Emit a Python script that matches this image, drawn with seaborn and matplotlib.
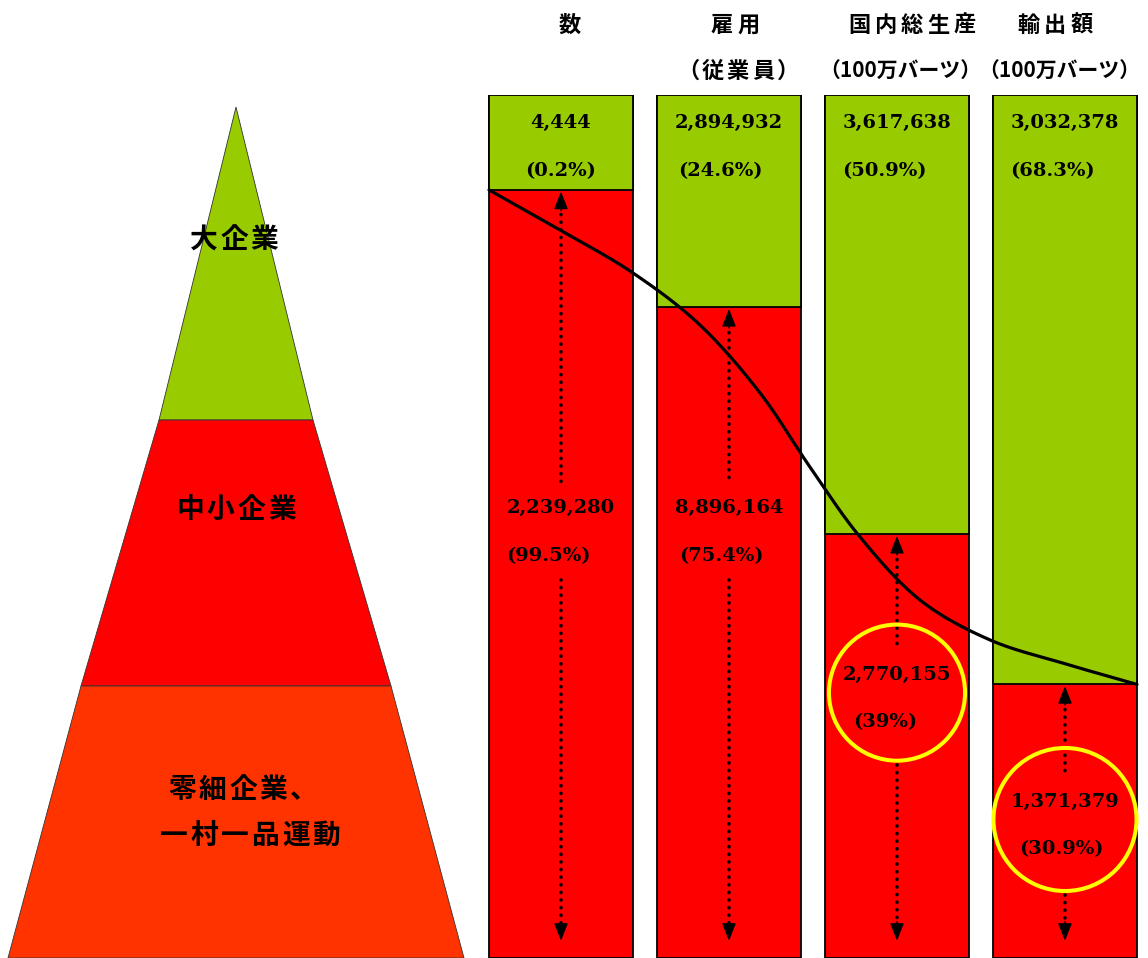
import numpy as np
import pandas as pd
import matplotlib
matplotlib.use("Agg")
import matplotlib.pyplot as plt
import seaborn as sns

# ---- data -------------------------------------------------------------
columns = ["数", "雇用", "国内総生産", "輸出額"]
units = ["", "（従業員）", "（100万バーツ）", "（100万バーツ）"]
large_values = [4444, 2894932, 3617638, 3032378]
large_share = [0.2, 24.6, 50.9, 68.3]
sme_values = [2239280, 8896164, 2770155, 1371379]
sme_share = [99.5, 75.4, 39, 30.9]
highlight = [False, False, True, True]

tiers = ["大企業", "中小企業", "零細企業、\n一村一品運動"]

# ---- style ------------------------------------------------------------
GREEN = "#99CC00"
RED = "#FF0000"
ORANGE = "#FF3300"
YELLOW = "#FFFF00"
JP = ["Noto Sans CJK JP", "DejaVu Sans"]
NUM = "DejaVu Serif"
MIN_VISIBLE = 11.0          # smallest share band kept tall enough for its labels

sns.set_theme(style="white")
plt.rcParams["font.family"] = JP
plt.rcParams["text.color"] = "black"

W, H = 1148, 958
fig = plt.figure(figsize=(W / 100, H / 100), dpi=100)
fig.patch.set_facecolor("white")

# bar panel: x in column units, y in percent (0 at the top)
BAR_L, BAR_R, BAR_T = 477, 1149, 95
ax = fig.add_axes([BAR_L / W, 0, (BAR_R - BAR_L) / W, (H - BAR_T) / H])
PX_PER_PCT = (H - BAR_T) / 100.0
PX_PER_COL = (BAR_R - BAR_L) / 4.0
BAR_WIDTH = 144 / PX_PER_COL

pos = np.arange(len(columns))
shown_large = [max(s, MIN_VISIBLE) for s in large_share]
df = pd.DataFrame({"pos": pos, "column": columns, "full": 100.0, "large": shown_large})

sns.barplot(data=df, x="pos", y="full", native_scale=True, color=RED, saturation=1,
            width=BAR_WIDTH, edgecolor="black", linewidth=1.3, ax=ax)
sns.barplot(data=df, x="pos", y="large", native_scale=True, color=GREEN, saturation=1,
            width=BAR_WIDTH, edgecolor="black", linewidth=1.3, ax=ax)
ax.set_xlim(-0.5, 3.5)
ax.set_ylim(100, 0)
ax.axis("off")


def spaced(axis, text, x, y, advance_px, **kw):
    """Draw text one glyph at a time with extra tracking."""
    n = len(text)
    for i, ch in enumerate(text):
        off = (i - (n - 1) / 2) * advance_px * 0.72
        axis.annotate(ch, xy=(x, y), xytext=(off, 0), textcoords="offset points",
                      ha="center", va="center", annotation_clip=False, **kw)


# column headings
head_shift = [9, 6, 15, -10]
unit_shift = [0, 9, 3, -6]
for i, (name, unit) in enumerate(zip(columns, units)):
    x = pos[i] + head_shift[i] / PX_PER_COL
    spaced(ax, name, x, -8.1, 26.5, fontsize=16, fontweight="bold", family=JP)
    if unit.startswith("（従"):
        spaced(ax, unit, pos[i] + unit_shift[i] / PX_PER_COL, -2.7, 25, fontsize=16,
               fontweight="bold", family=JP)
    elif unit:
        ax.text(pos[i] + unit_shift[i] / PX_PER_COL, -2.7, unit, ha="center",
                va="center", fontsize=15, fontweight="bold", family=JP, clip_on=False)

# value labels
PCT_GAP = 5.5
GREEN_LABEL_Y = 3.3
red_label_y = [47.9, 47.9, 67.2, 81.9]
green_pct_shift = [0, -9, -13, -13]
red_pct_shift = [-13, -8, -12, -4]
num_kw = dict(ha="center", va="center", fontsize=14, fontweight="bold", family=NUM,
              zorder=6)
for i in range(len(columns)):
    ax.text(pos[i], GREEN_LABEL_Y, f"{large_values[i]:,}", **num_kw)
    ax.text(pos[i] + green_pct_shift[i] / PX_PER_COL, GREEN_LABEL_Y + PCT_GAP,
            f"({large_share[i]:g}%)", **num_kw)
    ax.text(pos[i], red_label_y[i], f"{sme_values[i]:,}", **num_kw)
    ax.text(pos[i] + red_pct_shift[i] / PX_PER_COL, red_label_y[i] + PCT_GAP,
            f"({sme_share[i]:g}%)", **num_kw)

# highlighted SME figures
ring_diam_pt = {2: 98, 3: 103}
ring_center = {}
for i in np.flatnonzero(highlight):
    ring_center[i] = red_label_y[i] + PCT_GAP / 2 - 0.7
    sns.scatterplot(x=[pos[i]], y=[ring_center[i]], s=ring_diam_pt[i] ** 2, marker="o",
                    facecolor="none", edgecolor=YELLOW, linewidth=2.9, ax=ax, zorder=5,
                    legend=False)

# double-headed dotted arrows across the SME share
ARROW_END = 98.0
HEAD = 1.8
for i in range(len(columns)):
    top = shown_large[i]
    gap_a = red_label_y[i] - 3.0
    if highlight[i]:
        r_pct = ring_diam_pt[i] / 0.72 / 2 / PX_PER_PCT
        gap_b = ring_center[i] + r_pct + 0.5
    else:
        gap_b = red_label_y[i] + PCT_GAP + 2.8
    for y0, y1 in [(top + 0.2 + HEAD, gap_a), (gap_b, ARROW_END - HEAD)]:
        ax.plot([pos[i], pos[i]], [y0, y1], color="black", lw=2.6,
                linestyle=(0, (0.01, 2.1)), dash_capstyle="round", zorder=4)
    for tip, d in [(top + 0.2, 1), (ARROW_END, -1)]:
        ax.annotate("", xy=(pos[i], tip), xytext=(pos[i], tip + d * 2.2),
                    arrowprops=dict(arrowstyle="-|>,head_length=10.8,head_width=4.3",
                                    mutation_scale=1, color="black", lw=1,
                                    shrinkA=0, shrinkB=0), zorder=4)

# trend curve linking the large-enterprise boundaries
mid_knots = [(-0.006, 15.64), (0.429, 20.63), (0.827, 26.65), (1.185, 34.53),
             (1.482, 43.11), (1.780, 51.22), (2.137, 58.52), (2.554, 63.15),
             (3.0, 65.90)]
knots = np.array([(pos[0] - BAR_WIDTH / 2, shown_large[0])] + mid_knots +
                 [(pos[-1] + BAR_WIDTH / 2, shown_large[-1])])


def catmull_rom(pts, n=30):
    # phantom end points keep the end tangents natural
    ext = np.vstack([2 * pts[0] - pts[1], pts, 2 * pts[-1] - pts[-2]])
    out = []
    for k in range(1, len(ext) - 2):
        p0, p1, p2, p3 = ext[k - 1], ext[k], ext[k + 1], ext[k + 2]
        t = np.linspace(0, 1, n, endpoint=False)[:, None]
        seg = 0.5 * ((2 * p1) + (-p0 + p2) * t + (2 * p0 - 5 * p1 + 4 * p2 - p3) * t ** 2
                     + (-p0 + 3 * p1 - 3 * p2 + p3) * t ** 3)
        out.append(seg)
    out.append(pts[-1][None, :])
    return np.vstack(out)


curve = catmull_rom(knots)
ax.plot(curve[:, 0], curve[:, 1], color="black", lw=2.3, zorder=5,
        solid_capstyle="round")

# ---- pyramid ----------------------------------------------------------
pax = fig.add_axes([0, 0, BAR_L / W, 1])
pax.set_xlim(0, BAR_L)
pax.set_ylim(H, 0)
pax.axis("off")

APEX_X, APEX_Y = 236, 107
depth = [0, 313, 579, 851]
half = [0, 77, 155, 228]
tier_colors = [GREEN, RED, ORANGE]
for i, c in enumerate(tier_colors):
    ya, yb = APEX_Y + depth[i], APEX_Y + depth[i + 1]
    xs = [APEX_X - half[i], APEX_X + half[i], APEX_X + half[i + 1], APEX_X - half[i + 1]]
    ys = [ya, ya, yb, yb]
    pax.fill(xs, ys, facecolor=c, edgecolor="#333333", linewidth=0.6)

tier_label_pos = [[(234, 240)], [(236, 510)], [(243, 790), (250, 836)]]
for name, spots in zip(tiers, tier_label_pos):
    for line, (x, y) in zip(name.split("\n"), spots):
        spaced(pax, line, x, y, 30.5, fontsize=20, fontweight="bold", family=JP)

fig.savefig("out.png", dpi=100, facecolor="white")
